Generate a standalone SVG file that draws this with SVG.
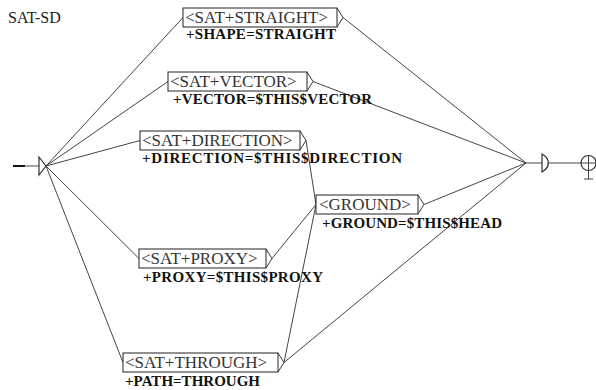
<svg xmlns="http://www.w3.org/2000/svg" width="596" height="390" viewBox="0 0 596 390">
<style>
.bg{fill:#fff}
.box{fill:#fff;stroke:#222;stroke-width:1}
.br{fill:none;stroke:#333;stroke-width:1}
.in{font-family:"Liberation Serif","Times New Roman",serif;font-size:17px;fill:#333}
.out{font-family:"Liberation Serif","Times New Roman",serif;font-weight:bold;font-size:15px;fill:#111}
.title{font-family:"Liberation Serif","Times New Roman",serif;font-size:16px;fill:#222}
.ln{fill:none;stroke:#444;stroke-width:1}
.st{fill:#fff;stroke:#333;stroke-width:1.2}
</style>
<rect class="bg" x="0" y="0" width="596" height="390"/>
<text class="title" x="8" y="23">SAT-SD</text>
<g id="connectors">
<path class="ln" d="M46,166 L183,17.5"/>
<path class="ln" d="M46,166 L168,81.5"/>
<path class="ln" d="M46,166 L140,140.5"/>
<path class="ln" d="M46,166 L139,258.5"/>
<path class="ln" d="M46,166 L123,362.5"/>
<path class="ln" d="M343,17.5 L526,163"/>
<path class="ln" d="M313,81.5 L526,163"/>
<path class="ln" d="M424,204.5 L526,163"/>
<path class="ln" d="M284,362.5 L526,163"/>
<path class="ln" d="M306,140.5 L316,204.5"/>
<path class="ln" d="M272,258.5 L316,204.5"/>
<path class="ln" d="M284,362.5 L316,204.5"/>
<path class="ln" d="M526,163 L542,163"/>
<path class="ln" d="M547,163 L581,163"/>
</g>
<g id="initial">
<path d="M13,166 L25,166" stroke="#111" stroke-width="2"/>
<path class="ln" d="M25,166 L39,166"/>
<path class="st" d="M39,157 L46,166 L39,175 Z"/>
</g>
<g id="final">
<path class="st" d="M542,154 Q549,158 548,163 Q549,168 542,172 Z"/>
<circle class="st" cx="588.5" cy="163" r="7.5"/>
<path class="ln" d="M581,163 L596,163 M588.5,155.5 L588.5,179 M584,179 L593,179" stroke-width="1.2"/>
</g>
<g id="straight">
<rect class="box" x="183" y="8" width="154" height="19"/>
<path class="br" d="M337,8 L343,17.5 L337,27"/>
<text class="in" x="185" y="23">&lt;SAT+STRAIGHT&gt;</text>
<text class="out" x="186" y="39" textLength="150" lengthAdjust="spacing">+SHAPE=STRAIGHT</text>
</g>
<g id="vector">
<rect class="box" x="168" y="72" width="139" height="19"/>
<path class="br" d="M307,72 L313,81.5 L307,91"/>
<text class="in" x="170" y="87">&lt;SAT+VECTOR&gt;</text>
<text class="out" x="173" y="104" textLength="199" lengthAdjust="spacing">+VECTOR=$THIS$VECTOR</text>
</g>
<g id="direction">
<rect class="box" x="140" y="131" width="160" height="19"/>
<path class="br" d="M300,131 L306,140.5 L300,150"/>
<text class="in" x="142" y="146">&lt;SAT+DIRECTION&gt;</text>
<text class="out" x="142" y="163" textLength="260" lengthAdjust="spacing">+DIRECTION=$THIS$DIRECTION</text>
</g>
<g id="ground">
<rect class="box" x="316" y="195" width="102" height="19"/>
<path class="br" d="M418,195 L424,204.5 L418,214"/>
<text class="in" x="319" y="210">&lt;GROUND&gt;</text>
<text class="out" x="322" y="228" textLength="180" lengthAdjust="spacing">+GROUND=$THIS$HEAD</text>
</g>
<g id="proxy">
<rect class="box" x="139" y="249" width="127" height="19"/>
<path class="br" d="M266,249 L272,258.5 L266,268"/>
<text class="in" x="141" y="264">&lt;SAT+PROXY&gt;</text>
<text class="out" x="143" y="282" textLength="180" lengthAdjust="spacing">+PROXY=$THIS$PROXY</text>
</g>
<g id="through">
<rect class="box" x="123" y="353" width="155" height="19"/>
<path class="br" d="M278,353 L284,362.5 L278,372"/>
<text class="in" x="125" y="368">&lt;SAT+THROUGH&gt;</text>
<text class="out" x="125" y="386" textLength="135" lengthAdjust="spacing">+PATH=THROUGH</text>
</g>
</svg>
